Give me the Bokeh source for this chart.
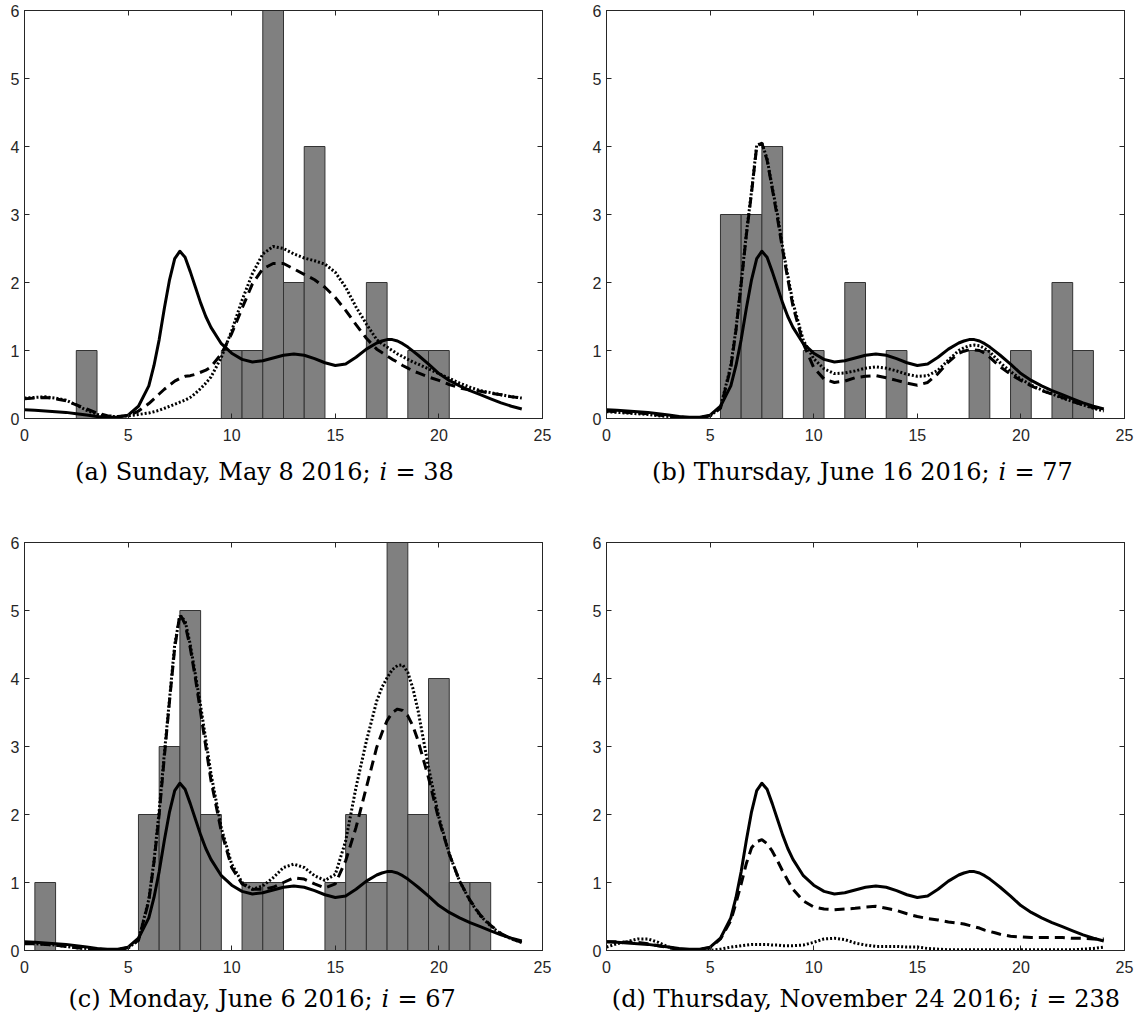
from bokeh.plotting import figure
from bokeh.models import Range1d, LinearAxis, Label, FixedTicker
from bokeh.layouts import column, row
from bokeh.embed import file_html
from bokeh.resources import INLINE

# ---------------- data ----------------
hours = [0, 0.5, 1, 1.5, 2, 2.5, 3, 3.5, 4, 4.5, 5, 5.5, 6, 6.25, 6.5, 6.75, 7, 7.25, 7.5, 7.75,
         8, 8.25, 8.5, 8.75, 9, 9.5, 10, 10.5, 11, 11.5, 12, 12.5, 13, 13.5, 14, 14.5, 15, 15.5,
         16, 16.5, 17, 17.25, 17.5, 17.75, 18, 18.25, 18.5, 18.75, 19, 19.5, 20, 20.5, 21, 21.5,
         22, 22.5, 23, 23.5, 24]

# solid curve (same in every panel)
solid_curve = [0.13, 0.12, 0.11, 0.10, 0.09, 0.07, 0.05, 0.03, 0.02, 0.02, 0.05, 0.18, 0.48, 0.78, 1.16, 1.62, 2.04, 2.35, 2.46, 2.37,
               2.16, 1.93, 1.70, 1.50, 1.34, 1.10, 0.96, 0.87, 0.83, 0.85, 0.89, 0.93, 0.95, 0.93, 0.88, 0.82, 0.78, 0.80,
               0.90, 1.02, 1.11, 1.14, 1.16, 1.16, 1.14, 1.10, 1.05, 0.99, 0.93, 0.80, 0.66, 0.56, 0.48, 0.41,
               0.35, 0.29, 0.23, 0.18, 0.14]

# panel (a)
a_bar_hours = [3, 10, 11, 12, 13, 14, 17, 19, 20]
a_bar_counts = [1, 1, 1, 6, 2, 4, 2, 1, 1]
a_dashed = [0.29, 0.30, 0.31, 0.29, 0.26, 0.20, 0.14, 0.08, 0.04, 0.03, 0.04, 0.11, 0.22, 0.29, 0.36, 0.43, 0.49, 0.55, 0.59, 0.62,
            0.63, 0.65, 0.68, 0.71, 0.76, 0.95, 1.25, 1.62, 1.98, 2.20, 2.28, 2.28, 2.20, 2.12, 2.04, 1.93, 1.78, 1.59,
            1.38, 1.18, 1.02, 0.97, 0.92, 0.87, 0.83, 0.78, 0.74, 0.70, 0.67, 0.61, 0.56, 0.50, 0.45, 0.42,
            0.40, 0.37, 0.35, 0.32, 0.30]
a_dotted = [0.30, 0.31, 0.32, 0.30, 0.27, 0.20, 0.12, 0.06, 0.03, 0.03, 0.04, 0.06, 0.08, 0.10, 0.12, 0.15, 0.18, 0.21, 0.24, 0.27,
            0.31, 0.37, 0.44, 0.52, 0.61, 0.90, 1.29, 1.74, 2.13, 2.42, 2.53, 2.50, 2.42, 2.36, 2.32, 2.27, 2.15, 1.93,
            1.64, 1.39, 1.16, 1.10, 1.05, 1.00, 0.95, 0.91, 0.87, 0.83, 0.80, 0.73, 0.66, 0.59, 0.52, 0.46,
            0.41, 0.38, 0.35, 0.32, 0.30]

# panel (b)
b_bar_hours = [6, 7, 8, 10, 12, 14, 18, 20, 22, 23]
b_bar_counts = [3, 3, 4, 1, 2, 1, 1, 1, 2, 1]
b_dashed = [0.11, 0.10, 0.09, 0.08, 0.07, 0.05, 0.03, 0.02, 0.01, 0.01, 0.04, 0.15, 0.75, 1.30, 1.98, 2.70, 3.32, 4.00, 4.05, 3.80,
            3.38, 2.95, 2.48, 2.05, 1.65, 1.10, 0.75, 0.58, 0.53, 0.55, 0.60, 0.62, 0.63, 0.60, 0.56, 0.52, 0.49, 0.53,
            0.66, 0.83, 0.96, 0.99, 1.01, 1.01, 1.00, 0.96, 0.90, 0.83, 0.76, 0.65, 0.56, 0.48, 0.41, 0.36,
            0.31, 0.25, 0.20, 0.16, 0.12]
b_dotted = [0.10, 0.09, 0.08, 0.07, 0.06, 0.04, 0.03, 0.02, 0.01, 0.01, 0.04, 0.16, 0.78, 1.32, 2.00, 2.72, 3.34, 4.02, 4.05, 3.82,
            3.40, 3.00, 2.52, 2.10, 1.70, 1.15, 0.88, 0.73, 0.66, 0.67, 0.70, 0.74, 0.76, 0.74, 0.70, 0.65, 0.62, 0.63,
            0.71, 0.86, 1.00, 1.04, 1.07, 1.08, 1.07, 1.03, 0.98, 0.90, 0.82, 0.69, 0.58, 0.49, 0.42, 0.36,
            0.30, 0.25, 0.20, 0.15, 0.11]

# panel (c)
c_bar_hours = [1, 6, 7, 8, 9, 11, 12, 15, 16, 17, 18, 19, 20, 21, 22]
c_bar_counts = [1, 2, 3, 5, 2, 1, 1, 1, 2, 1, 6, 2, 4, 1, 1]
c_dashed = [0.10, 0.10, 0.09, 0.08, 0.06, 0.04, 0.03, 0.02, 0.01, 0.01, 0.04, 0.15, 0.73, 1.30, 2.00, 2.85, 3.67, 4.45, 4.95, 4.80,
            4.45, 4.00, 3.50, 3.00, 2.50, 1.75, 1.22, 0.98, 0.90, 0.90, 0.93, 1.00, 1.07, 1.05, 0.98, 0.92, 0.98, 1.32,
            1.81, 2.40, 2.99, 3.20, 3.38, 3.50, 3.55, 3.53, 3.45, 3.30, 3.08, 2.54, 1.92, 1.42, 1.02, 0.74,
            0.52, 0.37, 0.25, 0.17, 0.12]
c_dotted = [0.11, 0.10, 0.09, 0.08, 0.06, 0.04, 0.03, 0.02, 0.01, 0.01, 0.04, 0.15, 0.75, 1.32, 2.05, 2.90, 3.70, 4.50, 4.92, 4.85,
            4.50, 4.05, 3.60, 3.10, 2.60, 1.80, 1.27, 1.00, 0.90, 0.95, 1.07, 1.22, 1.27, 1.22, 1.10, 1.03, 1.12, 1.61,
            2.40, 3.08, 3.67, 3.87, 4.01, 4.13, 4.19, 4.20, 4.09, 3.85, 3.52, 2.69, 1.96, 1.42, 1.02, 0.73,
            0.51, 0.36, 0.24, 0.17, 0.12]

# panel (d)
d_bar_hours = []
d_bar_counts = []
d_dashed = [0.13, 0.13, 0.12, 0.12, 0.10, 0.07, 0.04, 0.02, 0.01, 0.02, 0.04, 0.17, 0.44, 0.70, 0.98, 1.28, 1.51, 1.60, 1.63, 1.57,
            1.46, 1.32, 1.17, 1.03, 0.90, 0.73, 0.64, 0.61, 0.60, 0.61, 0.62, 0.64, 0.65, 0.62, 0.59, 0.54, 0.50, 0.47,
            0.45, 0.42, 0.40, 0.39, 0.37, 0.35, 0.33, 0.30, 0.28, 0.26, 0.24, 0.21, 0.20, 0.19, 0.19, 0.19,
            0.19, 0.18, 0.18, 0.17, 0.17]
d_dotted = [0.05, 0.10, 0.13, 0.17, 0.17, 0.12, 0.05, 0.02, 0.01, 0.00, 0.00, 0.02, 0.05, 0.06, 0.07, 0.08, 0.09, 0.09, 0.09, 0.09,
            0.08, 0.08, 0.07, 0.07, 0.07, 0.08, 0.12, 0.17, 0.18, 0.16, 0.11, 0.08, 0.06, 0.06, 0.06, 0.05, 0.05, 0.03,
            0.02, 0.01, 0.01, 0.01, 0.01, 0.01, 0.01, 0.01, 0.01, 0.01, 0.01, 0.01, 0.01, 0.01, 0.01, 0.01,
            0.01, 0.01, 0.02, 0.03, 0.05]

x_ticks = [0, 5, 10, 15, 20, 25]
y_ticks = [0, 1, 2, 3, 4, 5, 6]

captions = [
    ("(a) Sunday, May 8 2016;", "i", "= 38"),
    ("(b) Thursday, June 16 2016;", "i", "= 77"),
    ("(c) Monday, June 6 2016;", "i", "= 67"),
    ("(d) Thursday, November 24 2016;", "i", "= 238"),
]

# ---------------- layout (pixels) ----------------
FW, FH = 518, 408
AX_COL = "#262626"
PANEL_W = 570


def make_panel(height, left, top, bars_x, bars_y, dashed, dotted):
    right = PANEL_W - left - FW
    bottom = height - top - FH
    p = figure(width=PANEL_W, height=height, x_range=Range1d(0, 25), y_range=Range1d(0, 6),
               output_backend="svg", toolbar_location=None,
               min_border_left=left, min_border_right=right,
               min_border_top=top, min_border_bottom=bottom)
    p.xgrid.visible = False
    p.ygrid.visible = False
    p.outline_line_color = AX_COL
    p.outline_line_width = 1
    p.background_fill_color = "white"
    p.border_fill_color = "white"

    for ax, ticks in ((p.xaxis[0], x_ticks), (p.yaxis[0], y_ticks)):
        ax.ticker = FixedTicker(ticks=ticks)
        ax.major_tick_in = 5
        ax.major_tick_out = 0
        ax.minor_tick_in = 0
        ax.minor_tick_out = 0
        ax.axis_line_color = AX_COL
        ax.major_tick_line_color = AX_COL
        ax.major_label_text_font = "Liberation Sans"
        ax.major_label_text_font_size = "16px"
        ax.major_label_text_color = AX_COL
    p.xaxis[0].major_label_standoff = 10
    p.yaxis[0].major_label_standoff = 5

    for ticks, side in ((y_ticks, "right"), (x_ticks, "above")):
        ax = LinearAxis(ticker=FixedTicker(ticks=ticks), major_tick_in=5, major_tick_out=0,
                        minor_tick_in=0, minor_tick_out=0, axis_line_color=AX_COL,
                        major_tick_line_color=AX_COL, major_label_text_font_size="1px",
                        major_label_text_color=None, major_label_standoff=0)
        p.add_layout(ax, side)

    if bars_x:
        p.vbar(x=bars_x, top=bars_y, width=1, bottom=0, fill_color="#808080",
               line_color="#333333", line_width=1)

    p.line(hours, solid_curve, line_color="black", line_width=3, line_join="round")
    p.line(hours, dashed, line_color="black", line_width=3, line_dash="10 6")
    p.line(hours, dotted, line_color="black", line_width=3, line_dash="2 2")
    return p


def make_caption(height, cap, anchor, cy_from_top):
    c = figure(width=PANEL_W, height=height, x_range=Range1d(0, PANEL_W), y_range=Range1d(0, height),
               x_axis_type=None, y_axis_type=None, output_backend="svg", toolbar_location=None,
               min_border=0, min_border_left=0, min_border_right=0, min_border_top=0, min_border_bottom=0)
    c.outline_line_color = None
    c.xgrid.visible = False
    c.ygrid.visible = False
    y = height - cy_from_top
    part1, ital, part2 = cap
    fs = "24px"
    c.add_layout(Label(x=anchor, y=y, text=part1, text_font="DejaVu Serif",
                       text_font_size=fs, text_align="right", text_baseline="middle",
                       text_color="black"))
    c.add_layout(Label(x=anchor + 9, y=y, text=ital, text_font="DejaVu Serif",
                       text_font_style="italic", text_font_size=fs, text_align="left",
                       text_baseline="middle", text_color="black"))
    c.add_layout(Label(x=anchor + 25, y=y, text=part2, text_font="DejaVu Serif",
                       text_font_size=fs, text_align="left", text_baseline="middle",
                       text_color="black"))
    return c


pa = make_panel(450, 24, 10, a_bar_hours, a_bar_counts, a_dashed, a_dotted)
pb = make_panel(450, 36, 10, b_bar_hours, b_bar_counts, b_dashed, b_dotted)
ca = make_caption(80, captions[0], 370, 21)
cb = make_caption(80, captions[1], 419, 21)
pc = make_panel(452, 24, 12, c_bar_hours, c_bar_counts, c_dashed, c_dotted)
pd = make_panel(452, 36, 12, d_bar_hours, d_bar_counts, d_dashed, d_dotted)
cc = make_caption(45, captions[2], 372, 16)
cd = make_caption(45, captions[3], 451, 16)

layout = column(row(pa, pb), row(ca, cb), row(pc, pd), row(cc, cd))
open("out.html", "w").write(file_html(layout, INLINE))
